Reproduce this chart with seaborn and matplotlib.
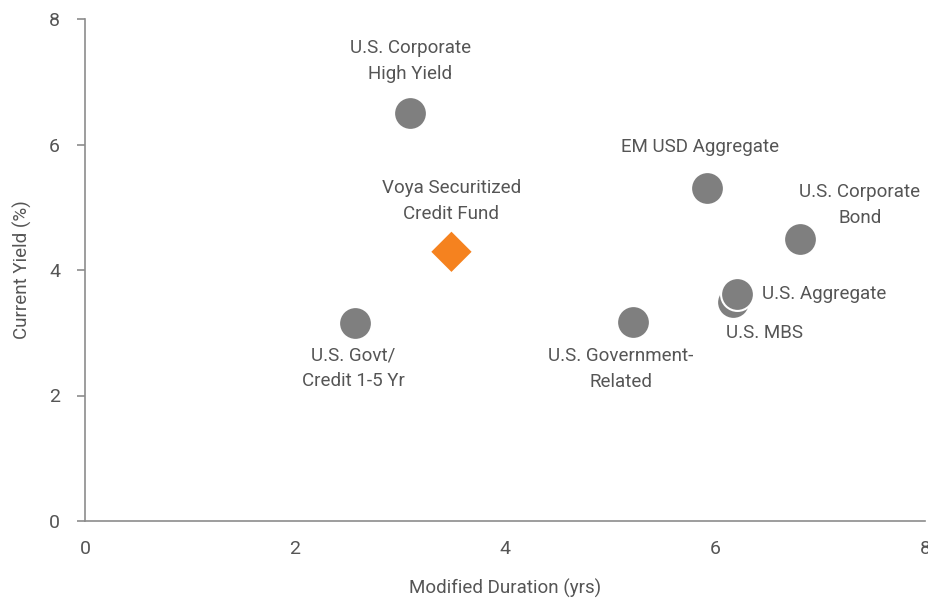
import pandas as pd
import matplotlib.pyplot as plt
import seaborn as sns

names = ['U.S. Corporate\nHigh Yield', 'Voya Securitized\nCredit Fund', 'U.S. Govt/\nCredit 1-5 Yr',
         'U.S. Government-\nRelated', 'EM USD Aggregate', 'U.S. Corporate\nBond',
         'U.S. MBS', 'U.S. Aggregate']
duration = [3.10, 3.49, 2.57, 5.22, 5.92, 6.81, 6.17, 6.21]
yields = [6.50, 4.29, 3.16, 3.17, 5.31, 4.49, 3.49, 3.62]
kind = ['Index', 'Fund', 'Index', 'Index', 'Index', 'Index', 'Index', 'Index']

df = pd.DataFrame({'name': names, 'dur': duration, 'yld': yields, 'kind': kind})

sns.set_style('white')
plt.rcParams['font.family'] = ['Roboto', 'DejaVu Sans']
txt = '#555555'

fig = plt.figure(figsize=(9.29, 5.98), dpi=100)
ax = fig.add_axes([85 / 929, 1 - 521 / 598, 840 / 929, 502 / 598])

idx = df[df.kind == 'Index']
sns.scatterplot(data=idx, x='dur', y='yld', color='#7f7f7f', s=560, marker='o',
                edgecolor='white', linewidth=1.5, ax=ax, zorder=3)
fund = df[df.kind == 'Fund']
sns.scatterplot(data=fund, x='dur', y='yld', color='#f5821f', s=420, marker='D',
                edgecolor='none', ax=ax, zorder=4)

# label offsets in points: (dx, dy, ha, va)
offs = {
    'U.S. Corporate\nHigh Yield': (0, 22, 'center', 'bottom'),
    'Voya Securitized\nCredit Fund': (0, 21, 'center', 'bottom'),
    'U.S. Govt/\nCredit 1-5 Yr': (-1, -17, 'center', 'top'),
    'U.S. Government-\nRelated': (-9, -18, 'center', 'top'),
    'EM USD Aggregate': (-5, 23, 'center', 'bottom'),
    'U.S. Corporate\nBond': (43, 9, 'center', 'bottom'),
    'U.S. MBS': (23, -16, 'center', 'top'),
    'U.S. Aggregate': (18, 0, 'left', 'center'),
}
for n, x, y in zip(df.name, df.dur, df.yld):
    dx, dy, ha, va = offs[n]
    ax.annotate(n, (x, y), xytext=(dx, dy), textcoords='offset points', ha=ha, va=va,
                fontsize=13.5, color=txt, linespacing=1.55)

ax.set_xlim(0, 8)
ax.set_ylim(0, 8)
ax.set_xticks([0, 2, 4, 6, 8])
ax.set_yticks([0, 2, 4, 6, 8])
ax.set_xlabel('Modified Duration (yrs)', fontsize=13.5, color=txt, labelpad=15)
ax.set_ylabel('Current Yield (%)', fontsize=13.5, color=txt, labelpad=12)
ax.tick_params(axis='x', length=0, labelsize=14, labelcolor=txt, pad=14)
ax.tick_params(axis='y', length=6, width=1.2, color='#8c8c8c', labelsize=14, labelcolor=txt, pad=12, left=True)
sns.despine(ax=ax)
ax.spines['left'].set_color('#8c8c8c')
ax.spines['bottom'].set_color('#8c8c8c')
ax.spines['left'].set_linewidth(1.2)
ax.spines['bottom'].set_linewidth(1.2)

fig.savefig('out.png', dpi=100)
